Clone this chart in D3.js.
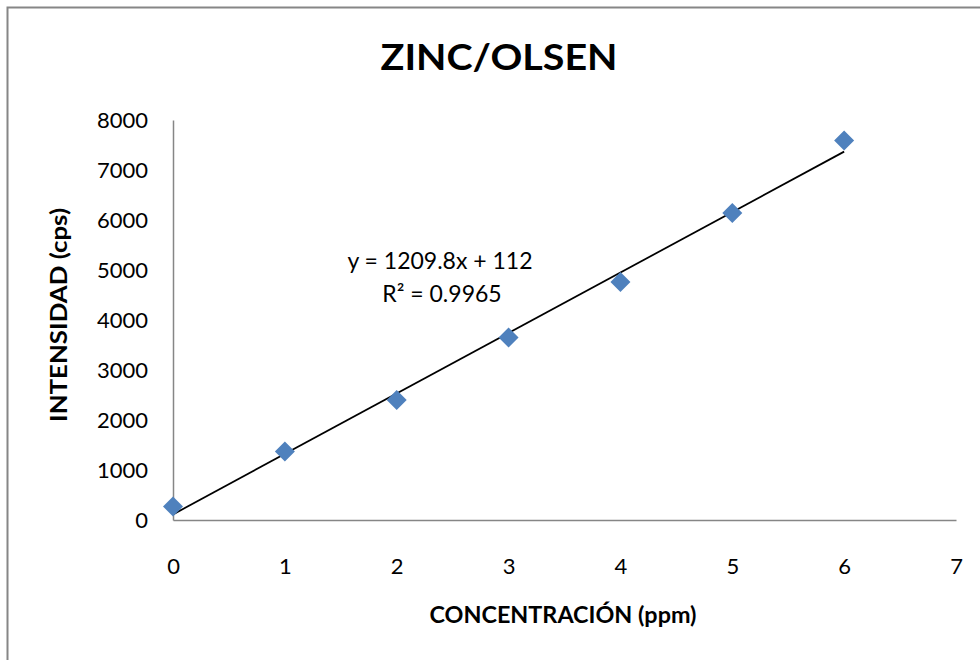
<!DOCTYPE html>
<html>
<head>
<meta charset="utf-8">
<script src="https://cdn.jsdelivr.net/npm/d3@7"></script>
<style>
  html, body { margin: 0; padding: 0; background: #fff; }
  svg { display: block; font-family: Lato, "Open Sans", sans-serif; }
</style>
</head>
<body>
<svg id="chart" width="980" height="660"></svg>
<script>
const concentration = [0, 1, 2, 3, 4, 5, 6];
const intensity = [270, 1370, 2400, 3650, 4760, 6140, 7590];
const xTicks = [0, 1, 2, 3, 4, 5, 6, 7];
const yTicks = [0, 1000, 2000, 3000, 4000, 5000, 6000, 7000, 8000];
const titleText = "ZINC/OLSEN";
const xLabel = "CONCENTRACIÓN (ppm)";
const yLabel = "INTENSIDAD (cps)";
const equationLines = ["y = 1209.8x + 112", "R² = 0.9965"];

const svg = d3.select("#chart");
const x = d3.scaleLinear().domain([0, 7]).range([173, 956]);
const y = d3.scaleLinear().domain([0, 8000]).range([520, 120]);

// outer border
svg.append("rect").attr("x", 7.5).attr("y", 7.5).attr("width", 1000).attr("height", 700)
  .attr("fill", "none").attr("stroke", "#868686").attr("stroke-width", 2);

// title
svg.append("text").attr("x", 499).attr("y", 69.5).attr("text-anchor", "middle")
  .attr("font-size", 37).attr("font-weight", "bold").attr("fill", "#000")
  .attr("textLength", 237).attr("lengthAdjust", "spacingAndGlyphs")
  .text(titleText);

// axes
const xAxis = d3.axisBottom(x).tickValues(xTicks).tickSize(0).tickPadding(0).tickFormat(d3.format("d"));
const yAxis = d3.axisLeft(y).tickValues(yTicks).tickSize(0).tickPadding(0).tickFormat(d3.format("d"));

const gx = svg.append("g").attr("transform", `translate(0,${y(0)})`).call(xAxis);
gx.select(".domain").attr("stroke", "#868686").attr("stroke-width", 1.5);
gx.selectAll("text").attr("font-size", 22).attr("fill", "#000").attr("dy", null)
  .attr("y", 54).attr("font-family", "Lato, sans-serif");

const gy = svg.append("g").attr("transform", `translate(${x(0)},0)`).call(yAxis);
gy.select(".domain").attr("stroke", "#868686").attr("stroke-width", 1.5);
gy.selectAll("text").attr("font-size", 22).attr("fill", "#000")
  .attr("x", -25).attr("dy", "0.36em").attr("font-family", "Lato, sans-serif");

// axis titles
svg.append("text").attr("x", 563).attr("y", 623).attr("text-anchor", "middle")
  .attr("font-size", 22).attr("font-weight", "bold")
  .attr("textLength", 267).attr("lengthAdjust", "spacingAndGlyphs")
  .text(xLabel);
svg.append("text").attr("transform", `translate(67,315) rotate(-90)`).attr("text-anchor", "middle")
  .attr("font-size", 22).attr("font-weight", "bold")
  .attr("textLength", 214).attr("lengthAdjust", "spacingAndGlyphs")
  .text(yLabel);

// linear regression trendline
const mx = d3.mean(concentration), my = d3.mean(intensity);
const slope = d3.sum(concentration.map((c, i) => (c - mx) * (intensity[i] - my))) /
              d3.sum(concentration.map(c => (c - mx) ** 2));
const intercept = my - slope * mx;
const trendX = d3.extent(concentration);
svg.append("path")
  .datum(trendX.map(v => [v, intercept + slope * v]))
  .attr("d", d3.line().x(d => x(d[0])).y(d => y(d[1])))
  .attr("stroke", "#000").attr("stroke-width", 1.75).attr("fill", "none");

// markers
const sym = d3.symbol().type(d3.symbolSquare).size(200);
svg.append("g").selectAll("path").data(concentration.map((c, i) => [c, intensity[i]]))
  .join("path")
  .attr("d", sym)
  .attr("transform", d => `translate(${x(d[0])},${y(d[1])}) rotate(45)`)
  .attr("fill", "#4F81BD");

// equation
const eq = svg.append("text").attr("text-anchor", "middle").attr("font-size", 23).attr("fill", "#000");
eq.append("tspan").attr("x", 440).attr("y", 269).text(equationLines[0]);
eq.append("tspan").attr("x", 442).attr("y", 302).text(equationLines[1]);
</script>
</body>
</html>
